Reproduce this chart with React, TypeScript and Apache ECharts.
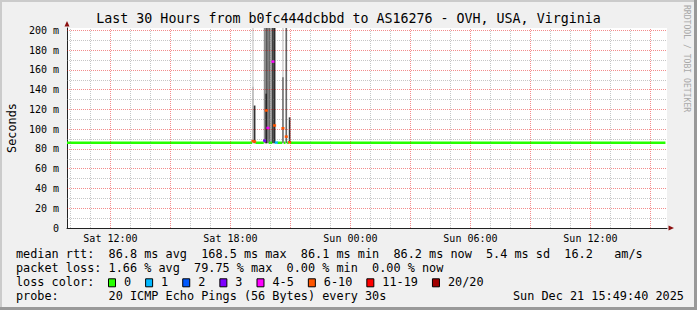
import React, { useEffect, useRef } from "react";
import * as echarts from "echarts";

// ---------- data ----------
const TITLE = "Last 30 Hours from b0fc444dcbbd to AS16276 - OVH, USA, Virginia";
const RANGE_START = "Sat 09:49:40";
const RANGE_END = "Sun 15:49:40";
const xLabelHours = ["Sat 12:00", "Sat 18:00", "Sun 00:00", "Sun 06:00", "Sun 12:00"];
const yMax = 202.5;
const yStep = 20;

// median rtt (ms), one segment per step start, coloured by lost pings (of 20)
const medianStart = [
  "Sat 09:49:40", "Sat 19:05", "Sat 19:10", "Sat 19:15", "Sat 19:40", "Sat 19:45",
  "Sat 19:50", "Sat 19:55", "Sat 20:05", "Sat 20:10", "Sat 20:15", "Sat 20:20",
  "Sat 20:35", "Sat 20:40", "Sat 20:45", "Sat 20:50", "Sat 20:55", "Sat 21:00",
];
const medianEnd = "Sun 15:45";
const medianValue = [86.3, 88.0, 87.5, 86.3, 88.5, 119.0, 101.3, 86.3, 168.5, 103.8, 86.5, 86.3, 101.0, 86.3, 92.5, 86.3, 86.8, 86.3];
const medianLoss = [0, 7, 7, 0, 3, 8, 4, 0, 5, 9, 1, 0, 6, 0, 7, 0, 6, 0];

// smoke (ping spread) per 5-minute step
const smokeTime = [
  "Sat 19:05", "Sat 19:10", "Sat 19:40", "Sat 19:45", "Sat 19:50", "Sat 19:55",
  "Sat 20:00", "Sat 20:05", "Sat 20:10", "Sat 20:35", "Sat 20:45", "Sat 20:55",
];
const smokeLow = [85.8, 85.8, 85.8, 85.8, 85.8, 85.8, 85.8, 85.8, 85.8, 85.8, 85.8, 85.8];
const smokeHigh = [260, 124, 260, 260, 260, 260, 260, 260, 260, 260, 260, 112];
const smokeDensity = [0.16, 0.8, 0.45, 0.65, 0.6, 0.6, 0.4, 0.83, 0.83, 0.17, 0.6, 0.78];
const smokeCoreHigh = [143, 0, 0, 136, 0, 0, 0, 0, 0, 152.6, 0, 0];
const smokeCoreDensity = [0.25, 0, 0, 0.85, 0, 0, 0, 0, 0, 0.53, 0, 0];

const lossLabels = ["0", "1", "2", "3", "4-5", "6-10", "11-19", "20/20"];
const lossThresholds = [0, 1, 2, 3, 4, 6, 11, 20];
const lossColors = ["#26ff00", "#00b8ff", "#0059ff", "#7e00ff", "#ff00ff", "#ff5500", "#ff0000", "#a10000"];

const rttAvg = "86.8", rttMax = "168.5", rttMin = "86.1", rttNow = "86.2", rttSd = "5.4", amS = "16.2";
const lossAvg = "1.66", lossMax = "79.75", lossMin = "0.00", lossNow = "0.00";
const probeText = "20 ICMP Echo Pings (56 Bytes) every 30s";
const stampText = "Sun Dec 21 15:49:40 2025";
const watermark = "RRDTOOL / TOBI OETIKER";

// ---------- helpers ----------
const STEP = 5 / 60;
const toHours = (s: string) => {
  const [day, time] = s.split(" ");
  const [h, m, sec = "0"] = time.split(":");
  return (day === "Sun" ? 24 : 0) + Number(h) + Number(m) / 60 + Number(sec) / 3600;
};
const lossColor = (n: number) => {
  let c = lossColors[0];
  lossThresholds.forEach((t, i) => { if (n >= t) c = lossColors[i]; });
  return c;
};
const gray = (d: number) => {
  const g = Math.round(255 * (1 - d));
  return `rgb(${g},${g},${g})`;
};

const MONO = "DejaVu Sans Mono";
const FS = 11.83;
const CW = FS * 0.602;

export default function App() {
  const ref = useRef<HTMLDivElement>(null);
  useEffect(() => {
    if (!ref.current) return;
    const chart = echarts.init(ref.current, undefined, { renderer: "svg" });
    const xMin = toHours(RANGE_START);
    const xMax = toHours(RANGE_END);
    const xLabelVals = xLabelHours.map(toHours);

    const minorX: number[] = [];
    const majorX: number[] = [];
    for (let h = Math.ceil(xMin); h < xMax; h++) (h % 3 === 0 ? majorX : minorX).push(h);
    const minorY: number[] = [];
    const majorY: number[] = [];
    for (let v = 10; v <= 200; v += 10) (v % 20 === 0 ? majorY : minorY).push(v);
    const minorStyle = { color: "rgba(128,128,128,0.45)", width: 1, type: [1, 1] };
    const majorStyle = { color: "rgba(230,0,0,0.45)", width: 1, type: [1, 1] };

    const medianData = medianStart.map((s, i) => [
      toHours(s), medianValue[i],
      i + 1 < medianStart.length ? toHours(medianStart[i + 1]) : toHours(medianEnd),
    ]);
    const smokeData = smokeTime.map((s, i) => [toHours(s), smokeHigh[i]]);

    // legend graphics
    const rows = [
      `median rtt:  ${rttAvg} ms avg  ${rttMax} ms max  ${rttMin} ms min  ${rttNow} ms now  ${rttSd} ms sd  ${amS}   am/s`,
      `packet loss: ${lossAvg} % avg  ${lossMax} % max  ${lossMin} % min  ${lossNow} % now`,
      `loss color:`,
      `probe:       ${probeText}`,
    ];
    const rowY = [254.3, 268.3, 282.3, 296];
    const textStyle = (t: string, x: number, y: number) => ({
      type: "text", x, y, silent: true,
      style: { text: t, font: `${FS}px '${MONO}'`, fill: "#000", textVerticalAlign: "middle", textAlign: "left" },
    });
    const graphics: any[] = [
      { type: "rect", shape: { x: 0, y: 0, width: 697, height: 2 }, style: { fill: "#cbcbcb" }, silent: true },
      { type: "rect", shape: { x: 0, y: 0, width: 2, height: 310 }, style: { fill: "#cbcbcb" }, silent: true },
      { type: "rect", shape: { x: 0, y: 307, width: 697, height: 3 }, style: { fill: "#999999" }, silent: true },
      { type: "rect", shape: { x: 694, y: 0, width: 3, height: 310 }, style: { fill: "#999999" }, silent: true },
      { type: "polygon", shape: { points: [[67, 21], [64.5, 26.5], [69.5, 26.5]] }, style: { fill: "#8b1010" }, silent: true },
      { type: "polygon", shape: { points: [[674, 228], [668.5, 225.5], [668.5, 230.5]] }, style: { fill: "#8b1010" }, silent: true },
      {
        type: "text", x: 686.5, y: 5, rotation: -Math.PI / 2, silent: true,
        style: { text: watermark, font: `8.1px '${MONO}'`, fill: "#a8a8a8", textAlign: "left", textVerticalAlign: "middle" },
      },
    ];
    rows.forEach((r, i) => graphics.push(textStyle(r, 16, rowY[i])));
    graphics.push(textStyle(stampText, 513, rowY[3]));
    let lx = 108;
    lossLabels.forEach((lab, i) => {
      graphics.push({
        type: "rect", silent: true,
        shape: { x: lx + 0.5, y: rowY[2] - 3.5, width: 7, height: 8 },
        style: { fill: lossColors[i], stroke: "#000", lineWidth: 1 },
      });
      graphics.push(textStyle(lab, lx + 16, rowY[2]));
      lx += 16 + lab.length * CW + 14;
    });

    chart.setOption({
      animation: false,
      backgroundColor: "#f0f0f0",
      title: {
        text: TITLE, left: "center", top: 12, padding: 0,
        textStyle: { fontFamily: MONO, fontSize: 13.3, fontWeight: "normal", color: "#000" },
      },
      grid: {
        left: 67, top: 28, width: 600, height: 200, show: true,
        backgroundColor: "#ffffff", borderWidth: 0, containLabel: false, outerBoundsMode: "none",
      },
      xAxis: {
        type: "value", min: xMin, max: xMax,
        axisLine: { show: true, lineStyle: { color: "#222", width: 1 } },
        axisTick: { show: false },
        splitLine: { show: false },
        axisLabel: {
          customValues: xLabelVals, margin: 5, fontFamily: MONO, fontSize: 10, color: "#000",
          formatter: (v: number) => {
            const i = xLabelVals.findIndex((x) => Math.abs(x - v) < 1e-6);
            return i >= 0 ? xLabelHours[i] : "";
          },
        },
      },
      yAxis: {
        type: "value", min: 0, max: yMax, interval: yStep,
        name: "Seconds", nameLocation: "middle", nameGap: 49, nameRotate: 90,
        nameTextStyle: { fontFamily: MONO, fontSize: FS, color: "#000" },
        axisLine: { show: true, lineStyle: { color: "#222", width: 1 } },
        axisTick: { show: false },
        splitLine: { show: false },
        axisLabel: {
          margin: 8, fontFamily: MONO, fontSize: 10, color: "#000", showMaxLabel: false,
          formatter: (v: number) => (v === 0 ? "0" : v % yStep === 0 ? `${v} m` : ""),
        },
      },
      series: [
        {
          type: "line", data: [], z: 1, silent: true,
          markLine: {
            silent: true, symbol: ["none", "none"], label: { show: false }, animation: false,
            data: [
              ...minorX.map((h) => ({ xAxis: h, lineStyle: minorStyle })),
              ...minorY.map((v) => ({ yAxis: v, lineStyle: minorStyle })),
              ...majorX.map((h) => ({ xAxis: h, lineStyle: majorStyle })),
              ...majorY.map((v) => ({ yAxis: v, lineStyle: majorStyle })),
            ],
          },
        },
        {
          type: "custom", z: 3, silent: true, data: smokeData, encode: { x: 0, y: 1 },
          renderItem: (params: any, api: any) => {
            const i = params.dataIndex;
            const t = api.value(0);
            const x0 = api.coord([t, 0])[0];
            const x1 = api.coord([t + STEP, 0])[0];
            const cs = params.coordSys;
            const area = { x: cs.x, y: cs.y, width: cs.width, height: cs.height };
            const children: any[] = [];
            const band = (lo: number, hi: number, d: number) => {
              const yLo = api.coord([t, lo])[1];
              const yHi = api.coord([t, hi])[1];
              const r = echarts.graphic.clipRectByRect({ x: x0, y: yHi, width: x1 - x0, height: yLo - yHi }, area);
              if (r) children.push({ type: "rect", shape: r, style: { fill: gray(d) } });
            };
            band(smokeLow[i], smokeHigh[i], smokeDensity[i]);
            if (smokeCoreHigh[i] > 0) band(smokeLow[i], smokeCoreHigh[i], smokeCoreDensity[i]);
            return { type: "group", children };
          },
        },
        {
          type: "custom", z: 4, silent: true, data: medianData, encode: { x: [0, 2], y: 1 },
          renderItem: (params: any, api: any) => {
            const i = params.dataIndex;
            const p0 = api.coord([api.value(0), api.value(1)]);
            const p1 = api.coord([api.value(2), api.value(1)]);
            const cap = medianLoss[i] > 0 ? 0.7 : 0;
            return {
              type: "rect",
              z2: medianLoss[i] > 0 ? 2 : 1,
              shape: { x: p0[0] - cap, y: p0[1] - 1.25, width: p1[0] - p0[0] + 2 * cap, height: 2.5 },
              style: { fill: lossColor(medianLoss[i]) },
            };
          },
        },
      ],
      graphic: graphics,
    });
    return () => chart.dispose();
  }, []);
  return <div ref={ref} style={{ position: "fixed", left: 0, top: 0, width: 697, height: 310 }} />;
}
